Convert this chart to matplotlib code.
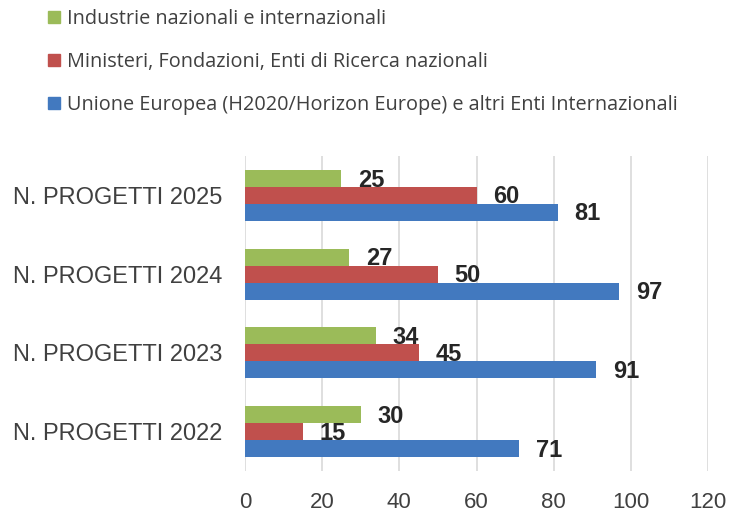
import numpy as np
import matplotlib.pyplot as plt
from matplotlib.patches import Patch

# data
categories = ["N. PROGETTI 2022", "N. PROGETTI 2023", "N. PROGETTI 2024", "N. PROGETTI 2025"]
series_names = ["Unione Europea (H2020/Horizon Europe) e altri Enti Internazionali",
                "Ministeri, Fondazioni, Enti di Ricerca nazionali",
                "Industrie nazionali e internazionali"]
ue = [71, 91, 97, 81]
ministeri = [15, 45, 50, 60]
industrie = [30, 34, 27, 25]
colors = ["#4279BF", "#C0504D", "#9BBB59"]
xticks = [0, 20, 40, 60, 80, 100, 120]

fig = plt.figure(figsize=(7.3, 5.13), dpi=100)
ax = fig.add_axes([245/730, 1-471/513, 463/730, (471-156)/513])

y = np.arange(len(categories))
h = 0.215
for i, (vals, col) in enumerate(zip([ue, ministeri, industrie], colors)):
    pos = y + (i - 1) * h
    ax.barh(pos, vals, height=h, color=col, zorder=3)
    for p, v in zip(pos, vals):
        ax.text(v + 4.3, p - 0.02, str(v), va="center", ha="left",
                fontsize=17, fontweight="bold", color="#262626",
                family="Liberation Sans", zorder=4)

ax.set_xlim(0, 120)
ax.set_ylim(-0.5, 3.5)
ax.set_xticks(xticks)
ax.set_yticks(y)
ax.set_yticklabels(categories)
ax.tick_params(length=0, labelcolor="#404040")
ax.tick_params(axis="x", labelsize=16, pad=15)
ax.tick_params(axis="y", labelsize=17, pad=16)
for lbl in ax.get_xticklabels() + ax.get_yticklabels():
    lbl.set_family("Liberation Sans")
ax.grid(axis="x", color="#D9D9D9", linewidth=1.2, zorder=0)
for s in ax.spines.values():
    s.set_visible(False)

# legend
handles = [Patch(color=c) for c in colors][::-1]
fig.legend(handles, series_names[::-1], loc="upper left", bbox_to_anchor=(0.041, 1.017),
           frameon=False, handlelength=0.6, handleheight=0.6, handletextpad=0.35,
           labelspacing=1.15, prop={"family": "Open Sans", "size": 14.3},
           labelcolor="#404040")

fig.savefig("out.png", dpi=100)
